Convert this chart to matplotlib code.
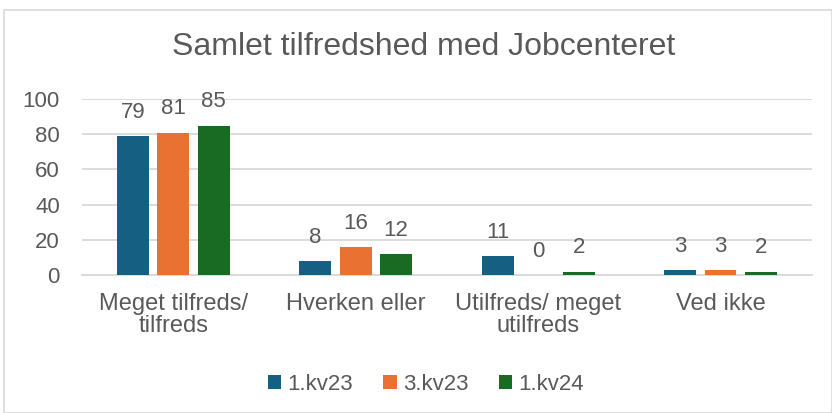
import matplotlib.pyplot as plt
import numpy as np

plt.rcParams['font.family'] = ['Liberation Sans', 'DejaVu Sans']

categories = ['Meget tilfreds/\ntilfreds', 'Hverken eller', 'Utilfreds/ meget\nutilfreds', 'Ved ikke']
series_names = ['1.kv23', '3.kv23', '1.kv24']
kv1_23 = [79, 8, 11, 3]
kv3_23 = [81, 16, 0, 3]
kv1_24 = [85, 12, 2, 2]
colors = ['#156082', '#E97132', '#196B24']
text_col = '#595959'

fig = plt.figure(figsize=(8.32, 4.13), dpi=100)
ax = fig.add_axes([0.0986, 0.334, 0.877, 0.426])

x = np.arange(len(categories))
w = 0.175
step = 0.222
for i, (vals, name) in enumerate(zip([kv1_23, kv3_23, kv1_24], series_names)):
    pos = x + (i - 1) * step
    ax.bar(pos, vals, width=w, color=colors[i], label=name, zorder=3)
    for p, v in zip(pos, vals):
        ax.annotate(str(v), (p, v), xytext=(0, 9.5), textcoords='offset points',
                    ha='center', va='bottom', fontsize=16, color=text_col)

ax.set_xlim(-0.5, 3.5)
ax.set_ylim(0, 100)
ax.set_yticks(range(0, 101, 20))
ax.yaxis.grid(True, color='#D9D9D9', linewidth=1.3, zorder=0)
ax.set_xticks(x)
ax.set_xticklabels(categories, fontsize=17, color=text_col, linespacing=0.98)
ax.tick_params(axis='y', labelsize=16, labelcolor=text_col, length=0, pad=16)
ax.tick_params(axis='x', length=0, pad=13)
for s in ['top', 'right', 'left']:
    ax.spines[s].set_visible(False)
ax.spines['bottom'].set_color('#D9D9D9')
ax.spines['bottom'].set_linewidth(1.3)

fig.text(0.509, 0.885, 'Samlet tilfredshed med Jobcenteret', ha='center', va='center',
         fontsize=23, color=text_col)

leg = fig.legend(loc='center', bbox_to_anchor=(0.512, 0.07), ncol=3, frameon=False,
                 fontsize=16, handlelength=0.6, handleheight=0.6, handletextpad=0.3,
                 columnspacing=1.35)
for t in leg.get_texts():
    t.set_color(text_col)

border = plt.Rectangle((0.005, 0.0), 0.995, 0.975, transform=fig.transFigure,
                       fill=False, edgecolor='#D9D9D9', linewidth=1.2)
fig.add_artist(border)

fig.savefig('out.png', dpi=100)
